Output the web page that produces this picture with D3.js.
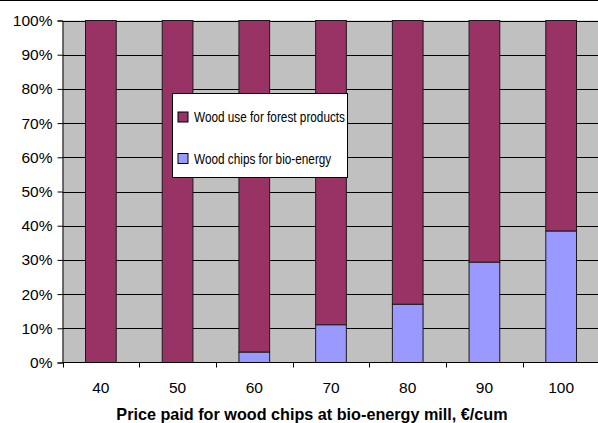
<!DOCTYPE html>
<html>
<head>
<meta charset="utf-8">
<script src="https://cdn.jsdelivr.net/npm/d3@7"></script>
<style>
  html, body { margin: 0; padding: 0; background: #fff; }
  svg { display: block; font-family: "Liberation Sans", Arial, sans-serif; }
</style>
</head>
<body>
<svg id="chart" width="598" height="423"></svg>
<script>
// Price paid for wood chips (€/cum) and share of wood going to each use (%)
const prices = ["40", "50", "60", "70", "80", "90", "100"];
const chipsShare = [0, 0, 3, 11, 17, 29.3, 38.4];
const forestShare = [100, 100, 97, 89, 83, 70.7, 61.6];
const yTicks = [0, 10, 20, 30, 40, 50, 60, 70, 80, 90, 100];
const seriesNames = ["Wood use for forest products", "Wood chips for bio-energy"];
const seriesColors = ["#993366", "#9999ff"];
const xTitle = "Price paid for wood chips at bio-energy mill, €/cum";

const svg = d3.select("#chart");
const W = 598, H = 423;
const plot = { left: 62.5, right: 599.5, top: 20.5, bottom: 362.5 };

// frame line along the top of the chart area
svg.append("line").attr("x1", 0).attr("x2", W).attr("y1", 0.5).attr("y2", 0.5)
  .attr("stroke", "#000").attr("stroke-width", 1.2);

const x = d3.scaleBand().domain(prices).range([plot.left, plot.right])
  .paddingInner(0.6).paddingOuter(0.3);
const xb = d3.scaleBand().domain(prices).range([plot.left, plot.right]);
const y = d3.scaleLinear().domain([0, 100]).range([plot.bottom, plot.top]);

// plot background
svg.append("rect").attr("x", plot.left).attr("y", plot.top)
  .attr("width", plot.right - plot.left).attr("height", plot.bottom - plot.top)
  .attr("fill", "#c0c0c0");

// horizontal gridlines
svg.append("g").selectAll("line").data(yTicks.filter(d => d > 0)).join("line")
  .attr("x1", plot.left).attr("x2", plot.right)
  .attr("y1", d => Math.round(y(d)) + 0.5).attr("y2", d => Math.round(y(d)) + 0.5)
  .attr("stroke", "#000").attr("stroke-width", 1);

// stacked bars
const rows = prices.map((p, i) => ({ p, chips: chipsShare[i], forest: forestShare[i] }));
const stack = d3.stack().keys(["forest", "chips"]).order(d3.stackOrderReverse);
const layers = stack(rows);
const colorOf = { forest: seriesColors[0], chips: seriesColors[1] };
svg.append("g").selectAll("g").data(layers).join("g")
  .attr("fill", d => colorOf[d.key])
  .selectAll("rect").data(d => d.filter(s => s[1] - s[0] > 0)).join("rect")
  .attr("x", d => x(d.data.p))
  .attr("width", x.bandwidth())
  .attr("y", d => y(d[1]))
  .attr("height", d => y(d[0]) - y(d[1]))
  .attr("stroke", "#1a1a1a").attr("stroke-width", 1);

// y axis
const yAxis = d3.axisLeft(y).tickValues(yTicks).tickFormat(d => d + "%")
  .tickSize(5).tickPadding(5);
const gy = svg.append("g").attr("transform", `translate(${plot.left},0)`).call(yAxis);
gy.select(".domain").attr("stroke", "#000");
gy.selectAll("text").attr("font-size", 15.5).attr("fill", "#000")
  .attr("font-family", "'Liberation Sans', Arial, sans-serif");

// x axis with ticks between categories
const gx = svg.append("g").attr("transform", `translate(0,${plot.bottom})`);
gx.append("line").attr("x1", plot.left).attr("x2", plot.right).attr("y1", 0).attr("y2", 0)
  .attr("stroke", "#000");
const bounds = prices.map(p => xb(p));
gx.selectAll("line.tk").data(bounds).join("line").attr("class", "tk")
  .attr("x1", d => Math.round(d) + 0.5).attr("x2", d => Math.round(d) + 0.5)
  .attr("y1", 0).attr("y2", 5).attr("stroke", "#000");
gx.selectAll("text").data(prices).join("text")
  .attr("x", d => xb(d) + xb.bandwidth() / 2).attr("y", 30)
  .attr("text-anchor", "middle").attr("font-size", 15.5).attr("fill", "#000")
  .text(d => d);

// axis title
svg.append("text").attr("x", 312).attr("y", 420)
  .attr("text-anchor", "middle").attr("font-size", 16.2).attr("font-weight", "bold")
  .text(xTitle);

// legend (entries set in a condensed face so the longest fits the box)
const lg = svg.append("g").attr("transform", "translate(172.5,93.5)");
lg.append("rect").attr("width", 175).attr("height", 84)
  .attr("fill", "#fff").attr("stroke", "#000").attr("stroke-width", 1);
const items = lg.selectAll("g.item").data(seriesNames).join("g").attr("class", "item")
  .attr("transform", (d, i) => `translate(0,${i * 41.5})`);
items.append("rect").attr("x", 5.5).attr("y", 18.5).attr("width", 10).attr("height", 10)
  .attr("fill", (d, i) => seriesColors[i]).attr("stroke", "#000");
const labels = items.append("text").attr("x", 21.5).attr("y", 28.5).attr("font-size", 14)
  .text(d => d);
const widest = d3.max(labels.nodes(), n => n.getComputedTextLength());
const squeeze = Math.min(1, 151 / widest);
labels.each(function () {
  d3.select(this).attr("textLength", this.getComputedTextLength() * squeeze)
    .attr("lengthAdjust", "spacingAndGlyphs");
});
</script>
</body>
</html>
